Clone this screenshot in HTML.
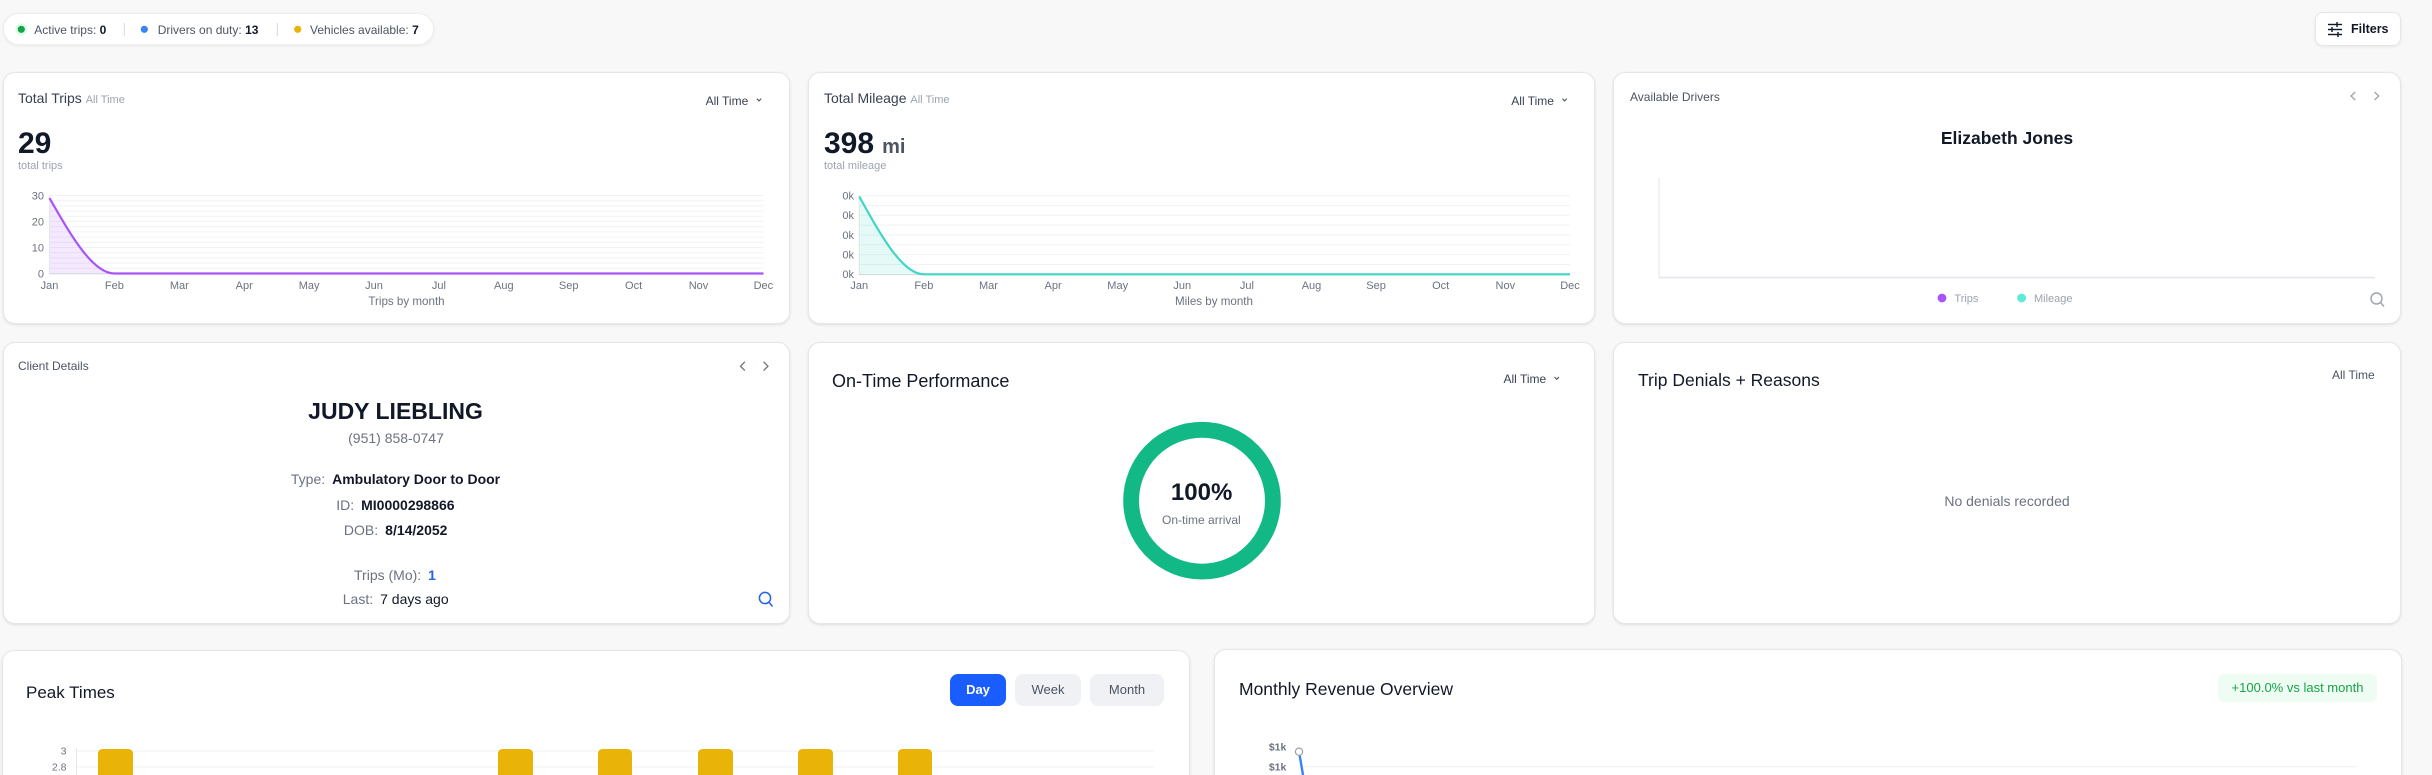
<!DOCTYPE html>
<html>
<head>
<meta charset="utf-8">
<style>
  html,body{margin:0;padding:0;width:2432px;height:775px;overflow:hidden;}
  body{background:#f8f8f9;font-family:"Liberation Sans",Arial,sans-serif;}
  #wrap{position:relative;width:2432px;height:775px;overflow:hidden;background:#f8f8f9;}
  .card{position:absolute;background:#fff;border:1px solid #e6e7ea;border-radius:12px;box-shadow:0 1px 3px rgba(0,0,0,0.07),0 1px 2px rgba(0,0,0,0.04);box-sizing:border-box;}
  .t{position:absolute;white-space:nowrap;line-height:1;}
  .c{transform:translateX(-50%);}
  svg{position:absolute;left:0;top:0;}
  .k{color:#6b7280;margin-right:7px;}
  .v{color:#111827;font-weight:bold;}
</style>
</head>
<body>
<div id="wrap">

<!-- status pill -->
<div style="position:absolute;left:3px;top:13px;width:431px;height:32px;border-radius:16px;background:#fff;border:1px solid #eceef1;box-sizing:border-box;box-shadow:0 1px 3px rgba(0,0,0,0.07);"></div>
<!-- filters button -->
<div style="position:absolute;left:2315px;top:12px;width:86px;height:34px;border-radius:8px;background:#fff;border:1px solid #e6e7ea;box-sizing:border-box;box-shadow:0 1px 3px rgba(0,0,0,0.07);"></div>

<!-- cards -->
<div class="card" style="left:3px;top:72px;width:787px;height:252px;"></div>
<div class="card" style="left:808px;top:72px;width:787px;height:252px;"></div>
<div class="card" style="left:1613px;top:72px;width:788px;height:252px;"></div>
<div class="card" style="left:3px;top:342px;width:787px;height:282px;"></div>
<div class="card" style="left:808px;top:342px;width:787px;height:282px;"></div>
<div class="card" style="left:1613px;top:342px;width:788px;height:282px;"></div>
<div class="card" style="left:2px;top:650px;width:1188px;height:160px;"></div>
<div class="card" style="left:1214px;top:649px;width:1188px;height:160px;"></div>

<svg width="2432" height="775" viewBox="0 0 2432 775" xmlns="http://www.w3.org/2000/svg" font-family="Liberation Sans, Arial, sans-serif">
  <!-- pill dots + separators -->
  <circle cx="21.3" cy="29.3" r="6" fill="#dcfce7"/>
  <circle cx="21.3" cy="29.3" r="3.6" fill="#16a34a"/>
  <line x1="124.3" y1="23" x2="124.3" y2="36" stroke="#d6d8dc" stroke-width="1"/>
  <circle cx="144.3" cy="29.3" r="3.6" fill="#3b82f6"/>
  <line x1="277.3" y1="23" x2="277.3" y2="36" stroke="#d6d8dc" stroke-width="1"/>
  <circle cx="297.7" cy="29.3" r="3.6" fill="#eab308"/>

  <!-- filters icon -->
  <g stroke="#111827" stroke-width="1.4" fill="none">
    <line x1="2328" y1="24.5" x2="2342" y2="24.5"/>
    <line x1="2328" y1="29.5" x2="2342" y2="29.5"/>
    <line x1="2328" y1="34.5" x2="2342" y2="34.5"/>
    <line x1="2337" y1="22" x2="2337" y2="27"/>
    <line x1="2332" y1="27" x2="2332" y2="32"/>
    <line x1="2338" y1="32" x2="2338" y2="37"/>
  </g>

  <!-- ===== Chart 1: Total Trips ===== -->
  <g stroke="#f1f2f4" stroke-width="1">
    <line x1="49.5" x2="763.5" y1="268.3" y2="268.3"/>
    <line x1="49.5" x2="763.5" y1="263.1" y2="263.1"/>
    <line x1="49.5" x2="763.5" y1="257.9" y2="257.9"/>
    <line x1="49.5" x2="763.5" y1="252.7" y2="252.7"/>
    <line x1="49.5" x2="763.5" y1="247.5" y2="247.5"/>
    <line x1="49.5" x2="763.5" y1="242.3" y2="242.3"/>
    <line x1="49.5" x2="763.5" y1="237.1" y2="237.1"/>
    <line x1="49.5" x2="763.5" y1="231.9" y2="231.9"/>
    <line x1="49.5" x2="763.5" y1="226.7" y2="226.7"/>
    <line x1="49.5" x2="763.5" y1="221.5" y2="221.5"/>
    <line x1="49.5" x2="763.5" y1="216.3" y2="216.3"/>
    <line x1="49.5" x2="763.5" y1="211.1" y2="211.1"/>
    <line x1="49.5" x2="763.5" y1="205.9" y2="205.9"/>
    <line x1="49.5" x2="763.5" y1="200.7" y2="200.7"/>
    <line x1="49.5" x2="763.5" y1="195.5" y2="195.5"/>
  </g>
  <path d="M49.5,198.1 C71.1,235.8 92.8,273.5 114.4,273.5 L49.5,273.5 Z" fill="#a855f7" fill-opacity="0.13"/>
  <line x1="49.5" y1="195" x2="49.5" y2="274" stroke="#e5e7eb" stroke-width="1.2"/>
  <line x1="49.5" y1="273.8" x2="763.5" y2="273.8" stroke="#d1d5db" stroke-width="1"/>
  <path d="M49.5,198.1 C71.1,235.8 92.8,273.5 114.4,273.5 L763.5,273.5" fill="none" stroke="#a855f7" stroke-width="2.2"/>
  <g font-size="11" fill="#6b7280" text-anchor="end">
    <text x="44" y="199.6">30</text>
    <text x="44" y="225.6">20</text>
    <text x="44" y="251.4">10</text>
    <text x="44" y="277.6">0</text>
  </g>
  <g font-size="11" fill="#6b7280" text-anchor="middle">
    <text x="49.5" y="289">Jan</text>
    <text x="114.4" y="289">Feb</text>
    <text x="179.3" y="289">Mar</text>
    <text x="244.2" y="289">Apr</text>
    <text x="309.1" y="289">May</text>
    <text x="374" y="289">Jun</text>
    <text x="438.9" y="289">Jul</text>
    <text x="503.8" y="289">Aug</text>
    <text x="568.7" y="289">Sep</text>
    <text x="633.6" y="289">Oct</text>
    <text x="698.5" y="289">Nov</text>
    <text x="763.4" y="289">Dec</text>
    <text x="406.5" y="305" font-size="11.6">Trips by month</text>
  </g>

  <!-- ===== Chart 2: Total Mileage ===== -->
  <g stroke="#f1f2f4" stroke-width="1">
    <line x1="859.3" x2="1570" y1="264.5" y2="264.5"/>
    <line x1="859.3" x2="1570" y1="254.6" y2="254.6"/>
    <line x1="859.3" x2="1570" y1="244.8" y2="244.8"/>
    <line x1="859.3" x2="1570" y1="235" y2="235"/>
    <line x1="859.3" x2="1570" y1="225.1" y2="225.1"/>
    <line x1="859.3" x2="1570" y1="215.3" y2="215.3"/>
    <line x1="859.3" x2="1570" y1="205.5" y2="205.5"/>
    <line x1="859.3" x2="1570" y1="195.7" y2="195.7"/>
  </g>
  <path d="M859.3,196.5 C880.8,235.4 902.4,274.3 923.9,274.3 L859.3,274.3 Z" fill="#2dd4bf" fill-opacity="0.12"/>
  <line x1="859.3" y1="195" x2="859.3" y2="275" stroke="#e5e7eb" stroke-width="1.2"/>
  <line x1="859.3" y1="274.6" x2="1570" y2="274.6" stroke="#d1d5db" stroke-width="1"/>
  <path d="M859.3,196.5 C880.8,235.4 902.4,274.3 923.9,274.3 L1570,274.3" fill="none" stroke="#40d6c6" stroke-width="2.2"/>
  <g font-size="11" fill="#6b7280" text-anchor="end">
    <text x="854" y="199.6">0k</text>
    <text x="854" y="219.2">0k</text>
    <text x="854" y="238.9">0k</text>
    <text x="854" y="258.5">0k</text>
    <text x="854" y="278.2">0k</text>
  </g>
  <g font-size="11" fill="#6b7280" text-anchor="middle">
    <text x="859.3" y="289">Jan</text>
    <text x="923.9" y="289">Feb</text>
    <text x="988.5" y="289">Mar</text>
    <text x="1053.1" y="289">Apr</text>
    <text x="1117.7" y="289">May</text>
    <text x="1182.3" y="289">Jun</text>
    <text x="1246.9" y="289">Jul</text>
    <text x="1311.5" y="289">Aug</text>
    <text x="1376.1" y="289">Sep</text>
    <text x="1440.7" y="289">Oct</text>
    <text x="1505.3" y="289">Nov</text>
    <text x="1570" y="289">Dec</text>
    <text x="1214" y="305" font-size="11.6">Miles by month</text>
  </g>

  <!-- chevrons for All Time dropdowns -->
  <g stroke="#4b5563" stroke-width="1.1" fill="none">
    <polyline points="756.8,98.6 759,100.9 761.2,98.6"/>
    <polyline points="1562.4,98.6 1564.6,100.9 1566.8,98.6"/>
    <polyline points="1554.6,377 1556.8,379.3 1559,377"/>
  </g>

  <!-- ===== Card 3: Available Drivers ===== -->
  <g stroke="#9ca3af" stroke-width="1.3" fill="none">
    <polyline points="2355.3,92 2351,96 2355.3,100"/>
    <polyline points="2374.5,92 2378.8,96 2374.5,100"/>
  </g>
  <line x1="1659" y1="178" x2="1659" y2="277.5" stroke="#e5e7eb" stroke-width="1.2"/>
  <line x1="1659" y1="277.5" x2="2375" y2="277.5" stroke="#e5e7eb" stroke-width="1.8"/>
  <circle cx="1942" cy="298" r="4.4" fill="#a855f7"/>
  <circle cx="2021.6" cy="298" r="4.4" fill="#5eead4"/>
  <g font-size="11" fill="#9ca3af">
    <text x="1954.4" y="302">Trips</text>
    <text x="2034" y="302">Mileage</text>
  </g>
  <g stroke="#9ca3af" stroke-width="1.4" fill="none">
    <circle cx="2376.5" cy="298.5" r="5.5"/>
    <line x1="2380.5" y1="302.5" x2="2384" y2="306.5"/>
  </g>

  <!-- ===== Card 4 arrows + icon ===== -->
  <g stroke="#6b7280" stroke-width="1.3" fill="none">
    <polyline points="744.8,361.8 740.5,366.2 744.8,370.6"/>
    <polyline points="763.6,361.8 767.9,366.2 763.6,370.6"/>
  </g>
  <g stroke="#2563eb" stroke-width="1.5" fill="none">
    <circle cx="765" cy="598" r="5.6"/>
    <line x1="769" y1="602.2" x2="772.5" y2="606.5"/>
  </g>

  <!-- ===== Donut ===== -->
  <circle cx="1202" cy="500.7" r="70.9" fill="none" stroke="#12b886" stroke-width="15.8"/>

  <!-- ===== Peak times chart ===== -->
  <line x1="76.5" y1="751" x2="1154" y2="751" stroke="#f1f2f4" stroke-width="1"/>
  <line x1="76.5" y1="767" x2="1154" y2="767" stroke="#f1f2f4" stroke-width="1"/>
  <line x1="76.5" y1="748" x2="76.5" y2="776" stroke="#e5e7eb" stroke-width="1"/>
  <g font-size="10.5" fill="#6b7280" text-anchor="end">
    <text x="66.5" y="754.5">3</text>
    <text x="66.5" y="770.5">2.8</text>
  </g>
  <g fill="#e9b308">
    <path d="M98,780 V754 Q98,749 103,749 H128 Q133,749 133,754 V780 Z"/>
    <path d="M498,780 V754 Q498,749 503,749 H528 Q533,749 533,754 V780 Z"/>
    <path d="M598,780 V754 Q598,749 603,749 H627 Q632,749 632,754 V780 Z"/>
    <path d="M698,780 V754 Q698,749 703,749 H728 Q733,749 733,754 V780 Z"/>
    <path d="M798,780 V754 Q798,749 803,749 H828 Q833,749 833,754 V780 Z"/>
    <path d="M898,780 V754 Q898,749 903,749 H927 Q932,749 932,754 V780 Z"/>
  </g>

  <!-- ===== Revenue chart ===== -->
  <line x1="1298" y1="766.7" x2="2357" y2="766.7" stroke="#f1f2f4" stroke-width="1.2"/>
  <g font-size="10.5" fill="#6b7280" text-anchor="middle" font-weight="bold">
    <text x="1277.6" y="750.4">$1k</text>
    <text x="1277.6" y="770.7">$1k</text>
  </g>
  <line x1="1299.6" y1="755" x2="1303.5" y2="778" stroke="#3b82f6" stroke-width="2.4"/>
  <circle cx="1299" cy="751.7" r="3.6" fill="#fff" stroke="#9ca3af" stroke-width="1.2"/>
</svg>

<!-- pill text -->
<div class="t" style="left:34.3px;top:23.6px;font-size:12px;color:#4b5563;">Active trips: <b style="color:#111827">0</b></div>
<div class="t" style="left:157.7px;top:23.6px;font-size:12px;color:#4b5563;">Drivers on duty: <b style="color:#111827">13</b></div>
<div class="t" style="left:310px;top:23.6px;font-size:12px;color:#4b5563;">Vehicles available: <b style="color:#111827">7</b></div>

<div class="t" style="left:2351px;top:22.9px;font-size:12.5px;font-weight:bold;color:#111827;">Filters</div>

<!-- Card 1 -->
<div class="t" style="left:18px;top:91.4px;font-size:14px;color:#374151;">Total Trips <span style="font-size:11px;color:#9ca3af;">All Time</span></div>
<div class="t" style="left:705.6px;top:94.7px;font-size:12px;color:#374151;">All Time</div>
<div class="t" style="left:18px;top:128.8px;font-size:30px;font-weight:bold;color:#111827;">29</div>
<div class="t" style="left:18px;top:161.2px;font-size:11px;color:#9ca3af;">total trips</div>

<!-- Card 2 -->
<div class="t" style="left:824px;top:91.4px;font-size:14px;color:#374151;">Total Mileage <span style="font-size:11px;color:#9ca3af;">All Time</span></div>
<div class="t" style="left:1511.3px;top:94.7px;font-size:12px;color:#374151;">All Time</div>
<div class="t" style="left:824px;top:128.8px;font-size:30px;font-weight:bold;color:#111827;">398<span style="font-size:20px;color:#4b5563;margin-left:8px;">mi</span></div>
<div class="t" style="left:824px;top:161.2px;font-size:11px;color:#9ca3af;">total mileage</div>

<!-- Card 3 -->
<div class="t" style="left:1630px;top:90.9px;font-size:12px;color:#4b5563;">Available Drivers</div>
<div class="t c" style="left:2007px;top:129.7px;font-size:17.5px;font-weight:bold;color:#111827;">Elizabeth Jones</div>

<!-- Card 4 -->
<div class="t" style="left:18px;top:360.3px;font-size:12px;color:#4b5563;">Client Details</div>
<div class="t c" style="left:395.5px;top:399.7px;font-size:23px;font-weight:bold;color:#111827;">JUDY LIEBLING</div>
<div class="t c" style="left:396px;top:431.4px;font-size:14px;color:#6b7280;">(951) 858-0747</div>
<div class="t c" style="left:395.5px;top:471.5px;font-size:14px;"><span class="k">Type:</span><span class="v">Ambulatory Door to Door</span></div>
<div class="t c" style="left:395.4px;top:497.5px;font-size:14px;"><span class="k">ID:</span><span class="v">MI0000298866</span></div>
<div class="t c" style="left:395.7px;top:523.2px;font-size:14px;"><span class="k">DOB:</span><span class="v">8/14/2052</span></div>
<div class="t c" style="left:395px;top:567.7px;font-size:14px;"><span class="k">Trips (Mo):</span><span class="v" style="color:#2563eb">1</span></div>
<div class="t c" style="left:395.7px;top:591.9px;font-size:14px;"><span class="k">Last:</span><span style="color:#111827">7 days ago</span></div>

<!-- Card 5 -->
<div class="t" style="left:832px;top:372px;font-size:18px;color:#111827;">On-Time Performance</div>
<div class="t" style="left:1503.5px;top:372.9px;font-size:12px;color:#374151;">All Time</div>
<div class="t c" style="left:1201.6px;top:480.9px;font-size:24px;font-weight:bold;color:#111827;">100%</div>
<div class="t c" style="left:1201.4px;top:513.8px;font-size:12px;color:#6b7280;">On-time arrival</div>

<!-- Card 6 -->
<div class="t" style="left:1638px;top:372.2px;font-size:17.5px;color:#111827;">Trip Denials + Reasons</div>
<div class="t" style="left:2332px;top:368.8px;font-size:12px;color:#4b5563;">All Time</div>
<div class="t c" style="left:2007px;top:494.1px;font-size:14px;color:#6b7280;">No denials recorded</div>

<!-- Card 7 -->
<div class="t" style="left:26px;top:683.7px;font-size:17px;color:#111827;">Peak Times</div>
<div style="position:absolute;left:950px;top:674px;width:56px;height:32px;border-radius:8px;background:#1a5dff;color:#fff;font-size:13px;font-weight:bold;line-height:32px;text-align:center;">Day</div>
<div style="position:absolute;left:1015px;top:674px;width:66px;height:32px;border-radius:8px;background:#f0f1f4;color:#4b5563;font-size:13px;line-height:32px;text-align:center;">Week</div>
<div style="position:absolute;left:1090px;top:674px;width:74px;height:32px;border-radius:8px;background:#f0f1f4;color:#4b5563;font-size:13px;line-height:32px;text-align:center;">Month</div>

<!-- Card 8 -->
<div class="t" style="left:1239px;top:681px;font-size:17.5px;color:#111827;">Monthly Revenue Overview</div>
<div style="position:absolute;left:2218px;top:674px;width:159px;height:28px;border-radius:6px;background:#effcf3;color:#16a34a;font-size:13px;line-height:28px;text-align:center;white-space:nowrap;">+100.0% vs last month</div>

</div>
</body>
</html>
